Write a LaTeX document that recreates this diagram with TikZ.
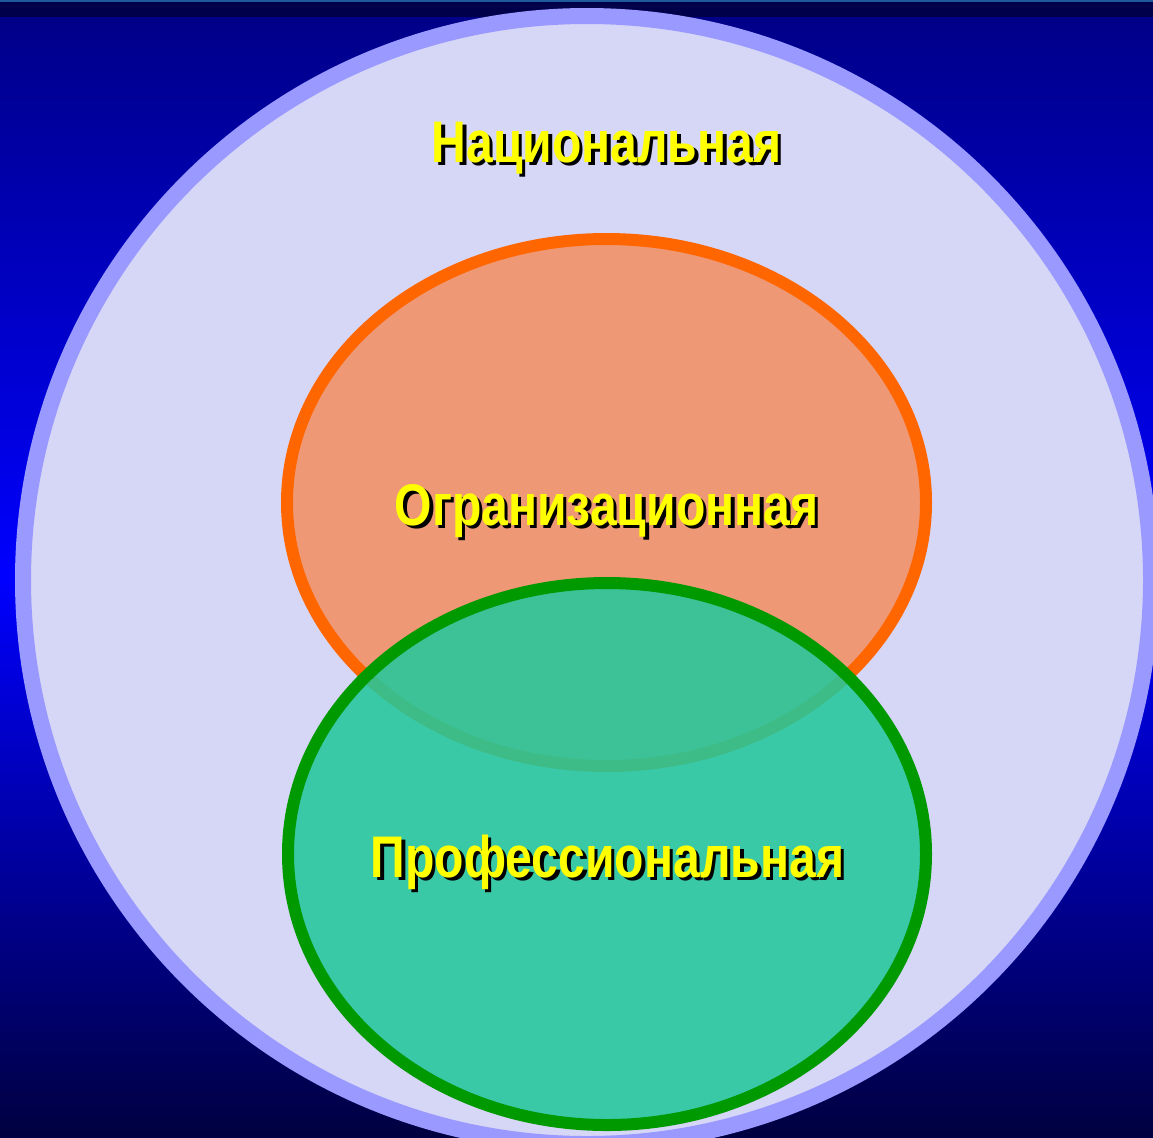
\documentclass[tikz,border=0pt]{standalone}
\usepackage{fontspec}
\newfontfamily\labelfont{Liberation Sans}[FakeStretch=0.82]
\definecolor{bgtop}{RGB}{0,0,136}
\definecolor{bgmid}{RGB}{0,0,255}
\definecolor{bgbottom}{RGB}{0,0,64}
\definecolor{bandnavy}{RGB}{0,0,74}
\definecolor{bandline}{RGB}{30,90,155}
\definecolor{natfill}{RGB}{214,214,246}
\definecolor{natrim}{RGB}{153,153,255}
\definecolor{orgfill}{RGB}{238,152,118}
\definecolor{orgrim}{RGB}{255,102,0}
\definecolor{proffill}{RGB}{36,200,155}
\definecolor{profrim}{RGB}{0,153,0}
\definecolor{labelyellow}{RGB}{255,255,0}
\tikzset{
  zone label/.style={font=\labelfont\bfseries\fontsize{33.4}{40}\selectfont,
    text=labelyellow, anchor=base, inner sep=0pt},
  zone shadow/.style={zone label, text=black, xshift=0.07cm, yshift=-0.07cm}
}
\newcommand\zonelabel[3]{%
  \node[zone shadow] (#1shadow) at (#2) {#3};
  \node[zone label] (#1) at (#2) {#3};
}
\begin{document}
\begin{tikzpicture}[x=0.02cm,y=-0.02cm]
\useasboundingbox (0,0) rectangle (1153,1137);
\clip (0,0) rectangle (1153,1137);
% background
\shade[top color=bgtop,bottom color=bgbottom,middle color=bgmid] (0,17) rectangle (1153,1137);
\fill[bandnavy] (0,0) rectangle (1153,17);
\draw[bandline,line width=0.04cm] (0,0.5)--(1153,0.5);
% circles
\filldraw[fill=natfill,draw=natrim,line width=0.32cm] (587,580) circle (564);
\filldraw[fill=orgfill,draw=orgrim,line width=0.24cm] (606.5,502.5) ellipse (319.5 and 263.5);
\fill[proffill,fill opacity=0.88] (607,854) ellipse (319 and 271);
\draw[profrim,line width=0.24cm] (607,854) ellipse (319 and 271);
% labels
\zonelabel{nat}{606.5,162}{Национальная}
\zonelabel{org}{606.5,525}{Огранизационная}
\zonelabel{prof}{607.5,877}{Профессиональная}
\end{tikzpicture}
\end{document}
